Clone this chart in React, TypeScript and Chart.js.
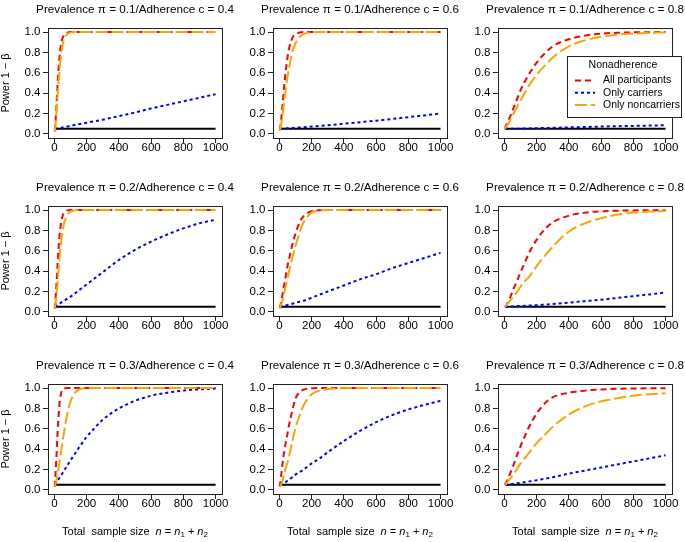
import React, { useEffect, useRef } from "react";
import { Chart, registerables } from "chart.js";

Chart.register(...registerables);

// ---------- data ----------
const N = [2, 10, 20, 30, 40, 50, 60, 80, 100, 125, 150, 200, 250, 300, 400, 500, 600, 700, 800, 900, 1000];
const X_TICKS = [0, 200, 400, 600, 800, 1000];
const Y_TICKS = [0, 0.2, 0.4, 0.6, 0.8, 1.0];
const PREVALENCE = [0.1, 0.2, 0.3];
const ADHERENCE = [0.4, 0.6, 0.8];
const ALPHA = 0.05;
const ALPHA_N = [10, 1000];
const SERIES_NAMES = ["All participants", "Only carriers", "Only noncarriers"];
const LEGEND_TITLE = "Nonadherence";
const Y_TITLE = "Power 1 \u2212 \u03b2";
const X_TITLE_PARTS = ["Total  sample size  ", "n", " = ", "n", "1", " + ", "n", "2"];
const X_TITLE_STYLES = ["r", "i", "r", "i", "s", "r", "i", "s"];

// prevalence 0.1
const ALL_01_04 = [0.03, 0.2, 0.5, 0.73, 0.87, 0.94, 0.97, 0.995, 1, 1, 1, 1, 1, 1, 1, 1, 1, 1, 1, 1, 1];
const CAR_01_04 = [0.05, 0.052, 0.055, 0.057, 0.06, 0.063, 0.066, 0.072, 0.08, 0.087, 0.095, 0.11, 0.125, 0.14, 0.175, 0.21, 0.25, 0.285, 0.32, 0.355, 0.39];
const NON_01_04 = [0.02, 0.15, 0.38, 0.6, 0.76, 0.87, 0.93, 0.98, 0.995, 1, 1, 1, 1, 1, 1, 1, 1, 1, 1, 1, 1];

const ALL_01_06 = [0.04, 0.12, 0.3, 0.48, 0.63, 0.75, 0.84, 0.94, 0.98, 0.995, 1, 1, 1, 1, 1, 1, 1, 1, 1, 1, 1];
const CAR_01_06 = [0.05, 0.05, 0.052, 0.053, 0.054, 0.055, 0.056, 0.058, 0.06, 0.063, 0.066, 0.072, 0.078, 0.085, 0.1, 0.115, 0.13, 0.147, 0.165, 0.182, 0.2];
const NON_01_06 = [0.03, 0.09, 0.2, 0.33, 0.45, 0.56, 0.65, 0.8, 0.89, 0.95, 0.98, 0.998, 1, 1, 1, 1, 1, 1, 1, 1, 1];

const ALL_01_08 = [0.05, 0.08, 0.11, 0.15, 0.19, 0.23, 0.27, 0.35, 0.43, 0.51, 0.58, 0.7, 0.79, 0.86, 0.93, 0.965, 0.985, 0.993, 0.997, 0.999, 1];
const CAR_01_08 = [0.05, 0.05, 0.05, 0.05, 0.051, 0.051, 0.051, 0.052, 0.052, 0.053, 0.054, 0.056, 0.058, 0.06, 0.064, 0.068, 0.072, 0.076, 0.079, 0.082, 0.085];
const NON_01_08 = [0.05, 0.07, 0.09, 0.12, 0.15, 0.18, 0.21, 0.27, 0.33, 0.4, 0.47, 0.58, 0.67, 0.75, 0.86, 0.92, 0.955, 0.975, 0.985, 0.993, 0.997];

// prevalence 0.2
const ALL_02_04 = [0.03, 0.2, 0.48, 0.72, 0.86, 0.94, 0.975, 0.997, 1, 1, 1, 1, 1, 1, 1, 1, 1, 1, 1, 1, 1];
const CAR_02_04 = [0.05, 0.06, 0.07, 0.08, 0.09, 0.1, 0.11, 0.13, 0.15, 0.18, 0.21, 0.27, 0.33, 0.39, 0.51, 0.61, 0.69, 0.76, 0.82, 0.87, 0.905];
const NON_02_04 = [0.03, 0.12, 0.3, 0.5, 0.66, 0.78, 0.87, 0.95, 0.985, 0.997, 1, 1, 1, 1, 1, 1, 1, 1, 1, 1, 1];

const ALL_02_06 = [0.04, 0.09, 0.18, 0.27, 0.36, 0.45, 0.52, 0.66, 0.77, 0.88, 0.94, 0.99, 0.999, 1, 1, 1, 1, 1, 1, 1, 1];
const CAR_02_06 = [0.05, 0.053, 0.057, 0.061, 0.065, 0.069, 0.073, 0.081, 0.09, 0.1, 0.11, 0.14, 0.17, 0.2, 0.26, 0.32, 0.37, 0.43, 0.48, 0.53, 0.58];
const NON_02_06 = [0.03, 0.07, 0.12, 0.19, 0.26, 0.33, 0.4, 0.53, 0.65, 0.78, 0.88, 0.975, 0.997, 1, 1, 1, 1, 1, 1, 1, 1];

const ALL_02_08 = [0.05, 0.06, 0.09, 0.12, 0.16, 0.2, 0.24, 0.31, 0.39, 0.48, 0.57, 0.71, 0.81, 0.88, 0.945, 0.975, 0.988, 0.994, 0.997, 0.998, 0.999];
const CAR_02_08 = [0.05, 0.05, 0.051, 0.052, 0.053, 0.054, 0.055, 0.057, 0.058, 0.06, 0.062, 0.066, 0.072, 0.078, 0.092, 0.106, 0.12, 0.137, 0.155, 0.172, 0.19];
const NON_02_08 = [0.05, 0.06, 0.08, 0.1, 0.12, 0.14, 0.16, 0.2, 0.25, 0.3, 0.34, 0.45, 0.55, 0.64, 0.79, 0.87, 0.92, 0.955, 0.975, 0.985, 0.99];

// prevalence 0.3
const ALL_03_04 = [0.03, 0.25, 0.58, 0.82, 0.94, 0.985, 0.997, 1, 1, 1, 1, 1, 1, 1, 1, 1, 1, 1, 1, 1, 1];
const CAR_03_04 = [0.05, 0.07, 0.09, 0.115, 0.14, 0.165, 0.19, 0.24, 0.29, 0.35, 0.41, 0.52, 0.61, 0.69, 0.8, 0.875, 0.925, 0.955, 0.975, 0.988, 0.995];
const NON_03_04 = [0.03, 0.08, 0.16, 0.26, 0.36, 0.47, 0.57, 0.75, 0.87, 0.95, 0.985, 0.999, 1, 1, 1, 1, 1, 1, 1, 1, 1];

const ALL_03_06 = [0.03, 0.13, 0.27, 0.38, 0.47, 0.55, 0.64, 0.78, 0.9, 0.96, 0.985, 0.998, 1, 1, 1, 1, 1, 1, 1, 1, 1];
const CAR_03_06 = [0.05, 0.056, 0.064, 0.072, 0.08, 0.09, 0.1, 0.125, 0.15, 0.175, 0.2, 0.26, 0.31, 0.37, 0.48, 0.58, 0.665, 0.735, 0.79, 0.835, 0.875];
const NON_03_06 = [0.03, 0.05, 0.1, 0.16, 0.22, 0.27, 0.33, 0.48, 0.61, 0.73, 0.83, 0.94, 0.975, 0.99, 0.999, 1, 1, 1, 1, 1, 1];

const ALL_03_08 = [0.05, 0.07, 0.1, 0.14, 0.18, 0.22, 0.26, 0.35, 0.43, 0.52, 0.61, 0.75, 0.85, 0.91, 0.955, 0.975, 0.987, 0.993, 0.996, 0.998, 0.999];
const CAR_03_08 = [0.05, 0.051, 0.053, 0.055, 0.057, 0.059, 0.061, 0.065, 0.07, 0.076, 0.082, 0.095, 0.11, 0.125, 0.16, 0.19, 0.22, 0.25, 0.28, 0.31, 0.34];
const NON_03_08 = [0.05, 0.06, 0.08, 0.1, 0.12, 0.14, 0.16, 0.21, 0.26, 0.31, 0.36, 0.46, 0.54, 0.62, 0.74, 0.82, 0.87, 0.9, 0.925, 0.94, 0.95];

const PANEL_ALL = [ALL_01_04, ALL_01_06, ALL_01_08, ALL_02_04, ALL_02_06, ALL_02_08, ALL_03_04, ALL_03_06, ALL_03_08];
const PANEL_CAR = [CAR_01_04, CAR_01_06, CAR_01_08, CAR_02_04, CAR_02_06, CAR_02_08, CAR_03_04, CAR_03_06, CAR_03_08];
const PANEL_NON = [NON_01_04, NON_01_06, NON_01_08, NON_02_04, NON_02_06, NON_02_08, NON_03_04, NON_03_06, NON_03_08];

// ---------- style / layout ----------
const FONT = '"Liberation Sans", Arial, Helvetica, sans-serif';
const RED = "#FF0000";
const BLUE = "#0000FF";
const ORANGE = "#FFA500";
const RED_DASH = [6, 4];
const BLUE_DASH = [3, 3];
const ORANGE_DASH = [12, 4];

const CELL_W = 225;
const CELL_H = 178;
const CANVAS_OFF = 12;
const CANVAS_W = 255;
const LAST_ROW_H = 186;
const PLOT_LEFT = 48;
const PLOT_W = 174;
const PLOT_TOP = 28;
const PLOT_H = 110;

function makeDecor(row: number, col: number) {
  return {
    id: "panelDecor" + row + col,
    afterDatasetsDraw(chart: any) {
      const { ctx, chartArea: a } = chart;
      ctx.save();
      ctx.strokeStyle = "#222";
      ctx.lineWidth = 1;
      ctx.setLineDash([]);
      ctx.strokeRect(Math.round(a.left) + 0.5, Math.round(a.top) + 0.5, Math.round(a.right - a.left), Math.round(a.bottom - a.top));
      ctx.restore();
    },
    afterDraw(chart: any) {
      const { ctx, chartArea: a } = chart;
      const cx = (a.left + a.right) / 2;
      ctx.save();
      ctx.fillStyle = "#000";
      // panel title
      ctx.font = `11.7px ${FONT}`;
      ctx.textAlign = "center";
      ctx.textBaseline = "middle";
      const title = `Prevalence \u03c0 = ${PREVALENCE[row].toFixed(1)}/Adherence c = ${ADHERENCE[col].toFixed(1)}`;
      ctx.fillText(title, cx, a.top - 18.5);

      // y title
      if (col === 0) {
        ctx.save();
        ctx.translate(CANVAS_OFF + 6, (a.top + a.bottom) / 2);
        ctx.rotate(-Math.PI / 2);
        ctx.font = `11px ${FONT}`;
        ctx.fillText(Y_TITLE, 0, 0);
        ctx.restore();
      }

      // x title (bottom row)
      if (row === 2) {
        const fonts: Record<string, string> = {
          r: `11px ${FONT}`,
          i: `italic 11px ${FONT}`,
          s: `8px ${FONT}`,
        };
        let total = 0;
        const widths = X_TITLE_PARTS.map((t, i) => {
          ctx.font = fonts[X_TITLE_STYLES[i]];
          const w = ctx.measureText(t).width;
          total += w;
          return w;
        });
        let x = cx - total / 2;
        const y = 175;
        ctx.textAlign = "left";
        ctx.textBaseline = "alphabetic";
        X_TITLE_PARTS.forEach((t, i) => {
          const st = X_TITLE_STYLES[i];
          ctx.font = fonts[st];
          ctx.fillText(t, x, y + 4 + (st === "s" ? 2 : 0));
          x += widths[i];
        });
      }

      // legend (top-right panel)
      if (row === 0 && col === 2) {
        const lx = CANVAS_OFF + 117, ly = 56, lw = 114, lh = 61;
        ctx.fillStyle = "#fff";
        ctx.fillRect(lx, ly, lw, lh);
        ctx.strokeStyle = "#222";
        ctx.lineWidth = 1;
        ctx.strokeRect(lx + 0.5, ly + 0.5, lw, lh);
        ctx.fillStyle = "#000";
        ctx.font = `10.5px ${FONT}`;
        ctx.textAlign = "center";
        ctx.textBaseline = "middle";
        ctx.fillText(LEGEND_TITLE, lx + 56, ly + 9.5);
        const cols = [RED, BLUE, ORANGE];
        const dashes = [RED_DASH, BLUE_DASH, ORANGE_DASH];
        ctx.textAlign = "left";
        SERIES_NAMES.forEach((name, i) => {
          const yy = ly + 24.5 + i * 12.2;
          ctx.strokeStyle = cols[i];
          ctx.lineWidth = 2;
          ctx.setLineDash(dashes[i]);
          ctx.beginPath();
          ctx.moveTo(lx + 8, yy);
          ctx.lineTo(lx + 28, yy);
          ctx.stroke();
          ctx.setLineDash([]);
          ctx.fillStyle = "#000";
          ctx.fillText(name, lx + 36, yy);
        });
      }
      ctx.restore();
    },
  };
}

function Panel({ row, col }: { row: number; col: number }) {
  const ref = useRef<HTMLCanvasElement>(null);
  const W = CANVAS_W;
  const H = row === 2 ? LAST_ROW_H : CELL_H;

  useEffect(() => {
    const k = row * 3 + col;
    const pts = (arr: number[]) => N.map((n, i) => ({ x: n, y: arr[i] }));
    const tickFont = { family: FONT, size: 11.5, lineHeight: 1.2 };
    const grid = {
      display: true,
      drawOnChartArea: false,
      drawTicks: true,
      tickLength: 5,
      color: "#222",
      lineWidth: 1,
    };
    const chart = new Chart(ref.current as HTMLCanvasElement, {
      type: "line",
      data: {
        datasets: [
          { label: SERIES_NAMES[2], data: pts(PANEL_NON[k]), borderColor: ORANGE, borderDash: ORANGE_DASH },
          { label: SERIES_NAMES[0], data: pts(PANEL_ALL[k]), borderColor: RED, borderDash: RED_DASH },
          { label: SERIES_NAMES[1], data: pts(PANEL_CAR[k]), borderColor: BLUE, borderDash: BLUE_DASH },
          { label: "alpha", data: ALPHA_N.map((n) => ({ x: n, y: ALPHA })), borderColor: "#000" },
        ],
      } as any,
      options: {
        responsive: false,
        animation: false,
        devicePixelRatio: 1,
        events: [],
        layout: {
          padding: { left: CANVAS_OFF, top: PLOT_TOP, right: W - CANVAS_OFF - PLOT_LEFT - PLOT_W, bottom: 0 },
        },
        plugins: { legend: { display: false }, tooltip: { enabled: false }, title: { display: false } },
        elements: {
          point: { radius: 0 },
          line: { borderWidth: 2, cubicInterpolationMode: "monotone", fill: false },
        },
        scales: {
          x: {
            type: "linear",
            min: -40,
            max: 1040,
            afterBuildTicks: (s: any) => {
              s.ticks = X_TICKS.map((v) => ({ value: v }));
            },
            afterFit: (s: any) => {
              s.height = H - PLOT_TOP - PLOT_H;
            },
            grid,
            border: { display: false },
            ticks: {
              autoSkip: false,
              maxRotation: 0,
              padding: -2,
              color: "#000",
              font: tickFont,
              callback: (v: any) => String(v),
            },
          },
          y: {
            type: "linear",
            min: -0.04,
            max: 1.04,
            afterBuildTicks: (s: any) => {
              s.ticks = Y_TICKS.map((v) => ({ value: v }));
            },
            afterFit: (s: any) => {
              s.width = PLOT_LEFT;
            },
            grid,
            border: { display: false },
            ticks: {
              autoSkip: false,
              padding: 2.5,
              color: "#000",
              font: tickFont,
              callback: (v: any) => Number(v).toFixed(1),
            },
          },
        },
      } as any,
      plugins: [makeDecor(row, col)],
    });
    return () => chart.destroy();
  }, [row, col]);

  return (
    <canvas
      ref={ref}
      width={W}
      height={H}
      style={{ position: "absolute", left: col * CELL_W - CANVAS_OFF, top: row * CELL_H, width: W, height: H }}
    />
  );
}

export default function App() {
  const cells = [];
  for (let r = 0; r < 3; r++) for (let c = 0; c < 3; c++) cells.push(<Panel key={`${r}-${c}`} row={r} col={c} />);
  return (
    <div style={{ position: "fixed", left: 0, top: 0, width: 685, height: 542, background: "#fff", overflow: "hidden" }}>
      {cells}
    </div>
  );
}
